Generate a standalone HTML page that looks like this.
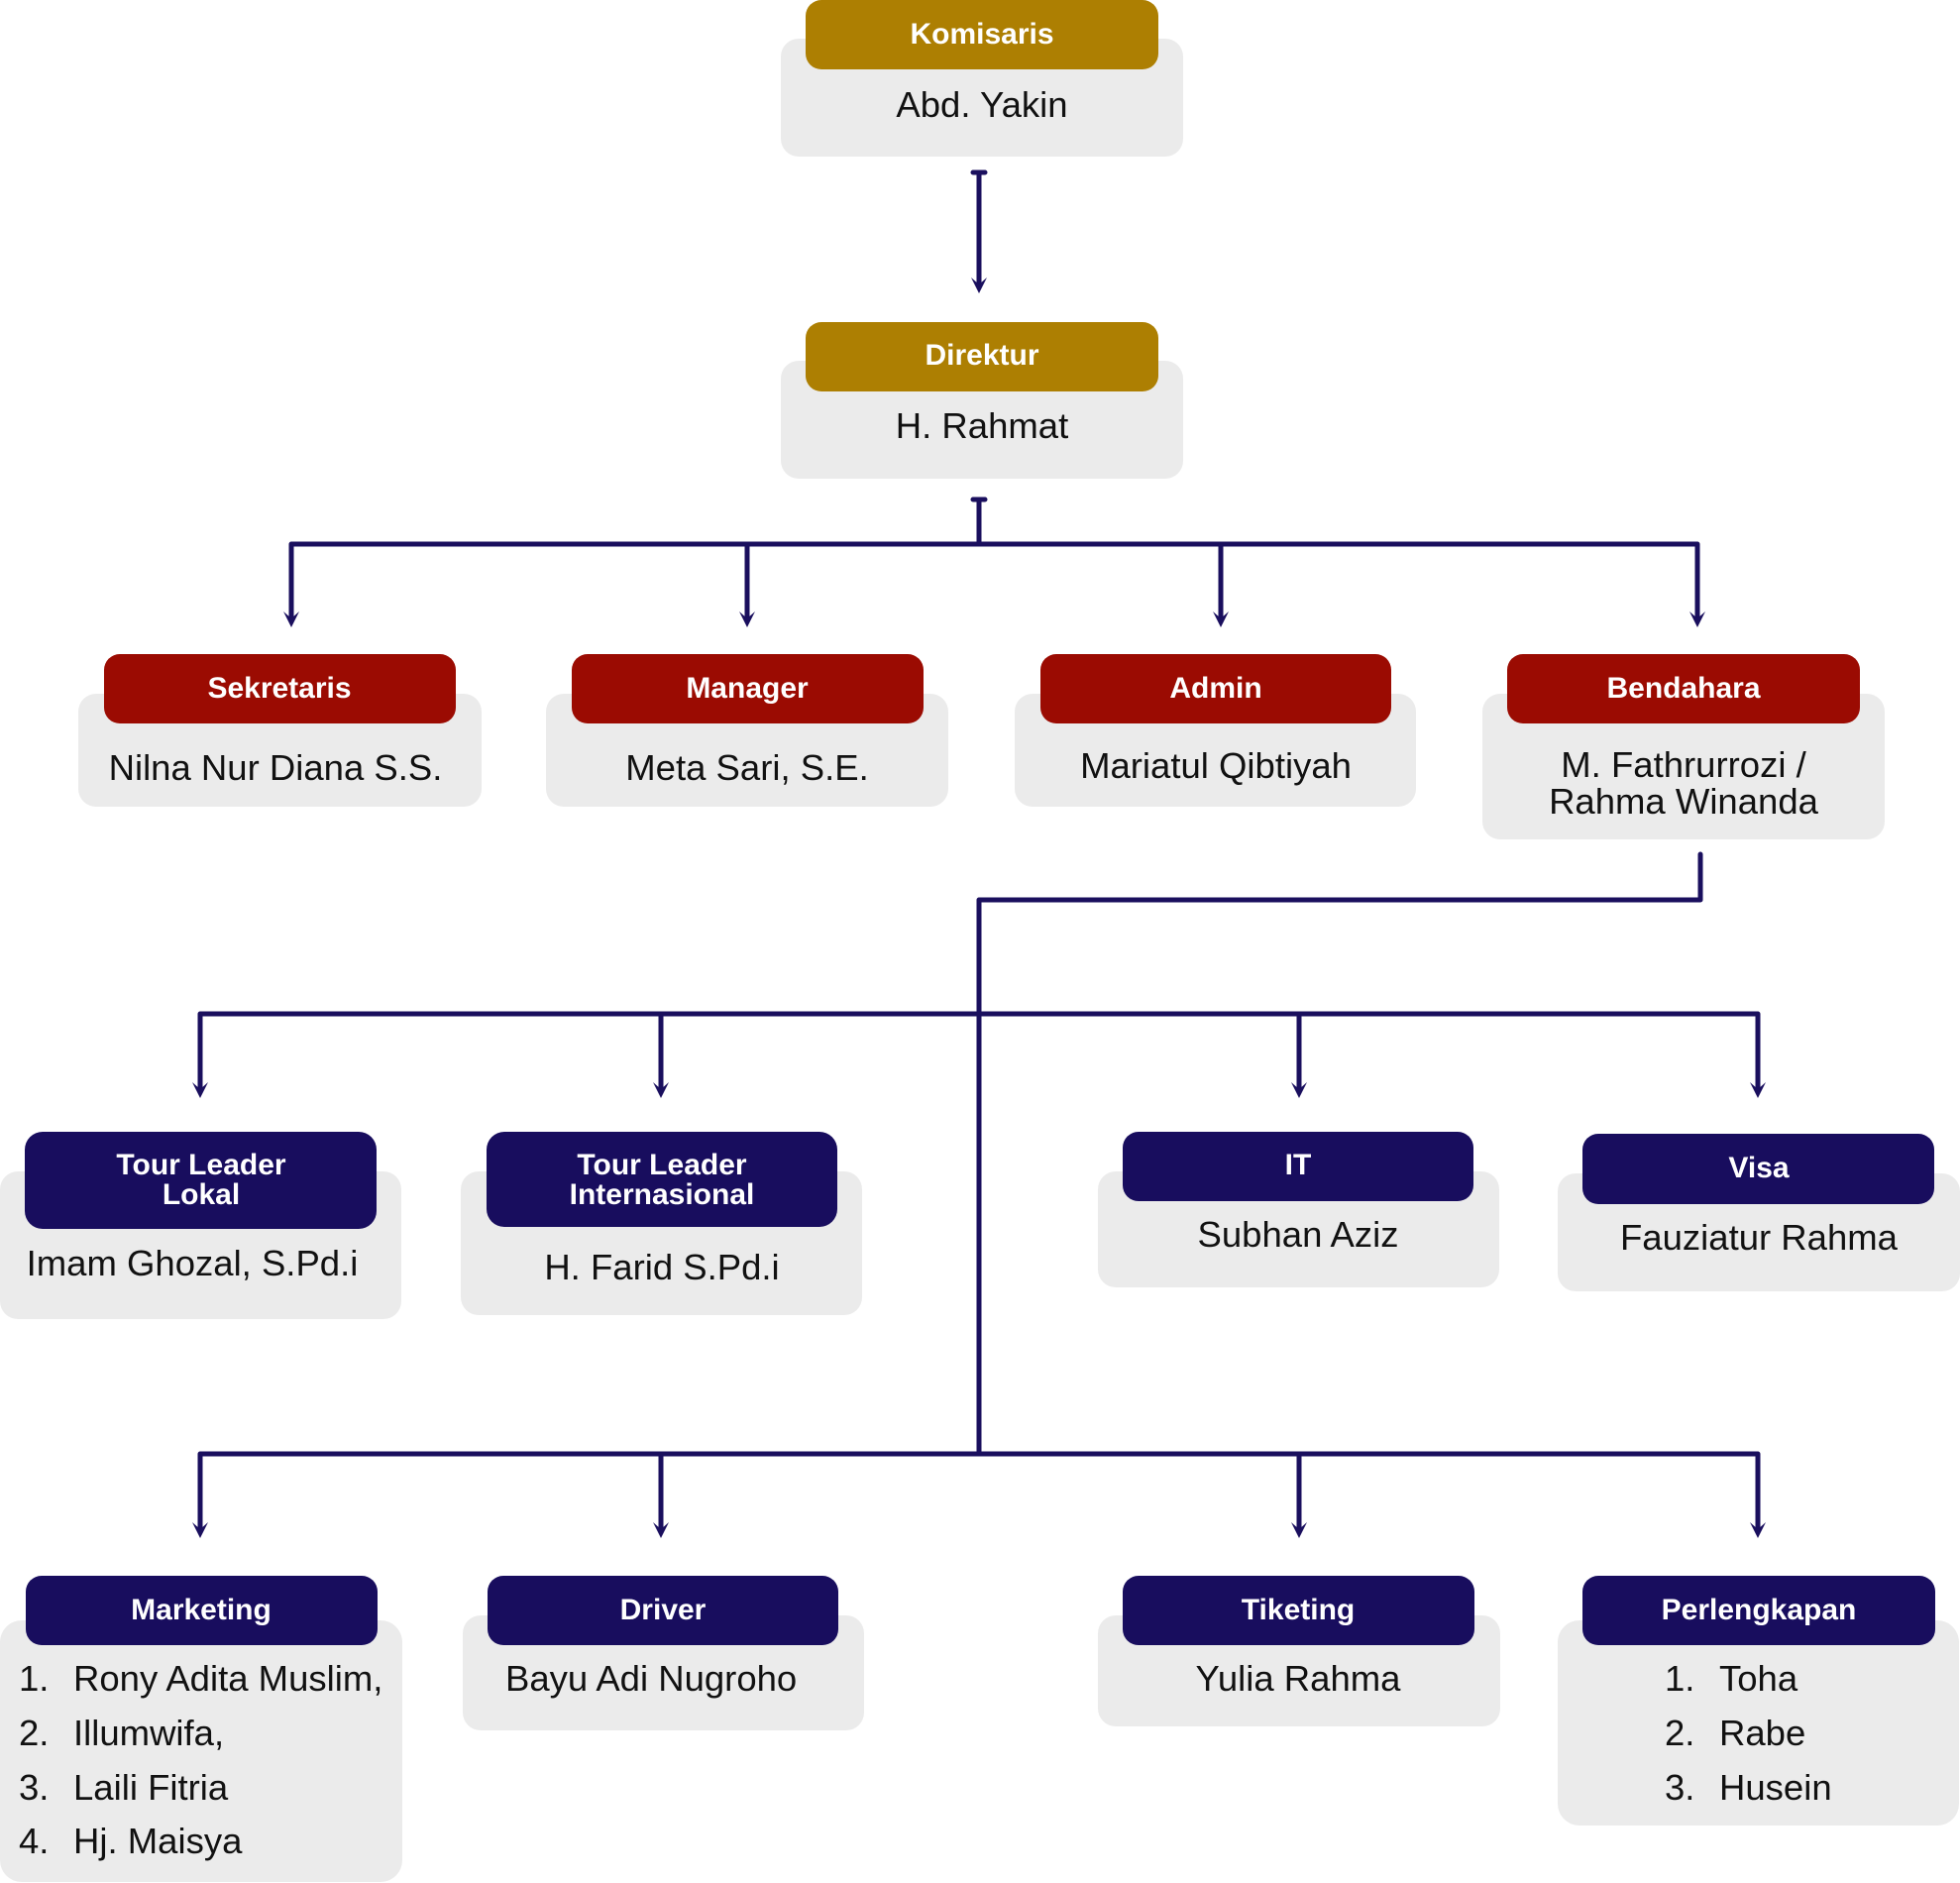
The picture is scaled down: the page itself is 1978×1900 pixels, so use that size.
<!DOCTYPE html>
<html><head><meta charset="utf-8"><style>
html,body{margin:0;padding:0;background:#fff;}
svg{display:block}
.h{font-family:"Liberation Sans",sans-serif;font-weight:bold;font-size:30px;fill:#fff;text-anchor:middle}
.n{font-family:"Liberation Sans",sans-serif;font-size:36.5px;fill:#111;text-anchor:middle}
.l{font-family:"Liberation Sans",sans-serif;font-size:36.5px;fill:#111}
.g{fill:#ebebeb}
.c{stroke:#1a0f5e;stroke-width:5;fill:none;stroke-linecap:round;stroke-linejoin:round}
</style></head><body>
<svg width="1978" height="1900" viewBox="0 0 1978 1900" xmlns="http://www.w3.org/2000/svg">
<g class="c">
<path d="M982 174H994M988 174V290"/>
<path d="M988 504V549M982 504H994"/>
<path d="M294 627V549H1713V627M754 549V627M1232 549V627"/>
<path d="M1716 862V908H988V1467"/>
<path d="M202 1102V1023H1774V1102M667 1023V1102M1311 1023V1102"/>
<path d="M202 1546V1467H1774V1546M667 1467V1546M1311 1467V1546"/>
</g>
<g fill="#1a0f5e">
<path d="M980 280L988 296L996 280L988 287Z"/>
<path d="M286 617L294 633L302 617L294 624Z"/>
<path d="M746 617L754 633L762 617L754 624Z"/>
<path d="M1224 617L1232 633L1240 617L1232 624Z"/>
<path d="M1705 617L1713 633L1721 617L1713 624Z"/>
<path d="M194 1092L202 1108L210 1092L202 1099Z"/>
<path d="M659 1092L667 1108L675 1092L667 1099Z"/>
<path d="M1303 1092L1311 1108L1319 1092L1311 1099Z"/>
<path d="M1766 1092L1774 1108L1782 1092L1774 1099Z"/>
<path d="M194 1536L202 1552L210 1536L202 1543Z"/>
<path d="M659 1536L667 1552L675 1536L667 1543Z"/>
<path d="M1303 1536L1311 1552L1319 1536L1311 1543Z"/>
<path d="M1766 1536L1774 1552L1782 1536L1774 1543Z"/>
</g>

<rect class="g" x="788" y="39" width="406" height="119" rx="18"/>
<rect fill="#ad7f02" x="813" y="0" width="356" height="70" rx="16"/>
<text class="h" x="991" y="44">Komisaris</text>
<text class="n" x="991" y="118">Abd. Yakin</text>

<rect class="g" x="788" y="364" width="406" height="119" rx="18"/>
<rect fill="#ad7f02" x="813" y="325" width="356" height="70" rx="16"/>
<text class="h" x="991" y="368">Direktur</text>
<text class="n" x="991" y="442">H. Rahmat</text>

<rect class="g" x="79" y="700" width="407" height="114" rx="18"/>
<rect fill="#9b0b02" x="105" y="660" width="355" height="70" rx="16"/>
<text class="h" x="282" y="704">Sekretaris</text>
<text class="n" x="278" y="787">Nilna Nur Diana S.S.</text>

<rect class="g" x="551" y="700" width="406" height="114" rx="18"/>
<rect fill="#9b0b02" x="577" y="660" width="355" height="70" rx="16"/>
<text class="h" x="754" y="704">Manager</text>
<text class="n" x="754" y="787">Meta Sari, S.E.</text>

<rect class="g" x="1024" y="700" width="405" height="114" rx="18"/>
<rect fill="#9b0b02" x="1050" y="660" width="354" height="70" rx="16"/>
<text class="h" x="1227" y="704">Admin</text>
<text class="n" x="1227" y="785">Mariatul Qibtiyah</text>

<rect class="g" x="1496" y="700" width="406" height="147" rx="18"/>
<rect fill="#9b0b02" x="1521" y="660" width="356" height="70" rx="16"/>
<text class="h" x="1699" y="704">Bendahara</text>
<text class="n" x="1699" y="784">M. Fathrurrozi /</text>
<text class="n" x="1699" y="821">Rahma Winanda</text>

<rect class="g" x="0" y="1182" width="405" height="149" rx="18"/>
<rect fill="#180d5e" x="25" y="1142" width="355" height="98" rx="18"/>
<text class="h" x="203" y="1185">Tour Leader</text>
<text class="h" x="203" y="1215">Lokal</text>
<text class="n" x="194" y="1287">Imam Ghozal, S.Pd.i</text>

<rect class="g" x="465" y="1182" width="405" height="145" rx="18"/>
<rect fill="#180d5e" x="491" y="1142" width="354" height="96" rx="18"/>
<text class="h" x="668" y="1185">Tour Leader</text>
<text class="h" x="668" y="1215">Internasional</text>
<text class="n" x="668" y="1291">H. Farid S.Pd.i</text>

<rect class="g" x="1108" y="1182" width="405" height="117" rx="18"/>
<rect fill="#180d5e" x="1133" y="1142" width="354" height="70" rx="16"/>
<text class="h" x="1310" y="1185">IT</text>
<text class="n" x="1310" y="1258">Subhan Aziz</text>

<rect class="g" x="1572" y="1184" width="406" height="119" rx="18"/>
<rect fill="#180d5e" x="1597" y="1144" width="355" height="71" rx="16"/>
<text class="h" x="1775" y="1188">Visa</text>
<text class="n" x="1775" y="1261">Fauziatur Rahma</text>

<rect class="g" x="0" y="1635" width="406" height="264" rx="22"/>
<rect fill="#180d5e" x="26" y="1590" width="355" height="70" rx="16"/>
<text class="h" x="203" y="1634">Marketing</text>
<text class="l" x="19" y="1706">1.</text><text class="l" x="74" y="1706">Rony Adita Muslim,</text>
<text class="l" x="19" y="1761">2.</text><text class="l" x="74" y="1761">Illumwifa,</text>
<text class="l" x="19" y="1816">3.</text><text class="l" x="74" y="1816">Laili Fitria</text>
<text class="l" x="19" y="1870">4.</text><text class="l" x="74" y="1870">Hj. Maisya</text>

<rect class="g" x="467" y="1630" width="405" height="116" rx="18"/>
<rect fill="#180d5e" x="492" y="1590" width="354" height="70" rx="16"/>
<text class="h" x="669" y="1634">Driver</text>
<text class="l" x="510" y="1706">Bayu Adi Nugroho</text>

<rect class="g" x="1108" y="1630" width="406" height="112" rx="18"/>
<rect fill="#180d5e" x="1133" y="1590" width="355" height="70" rx="16"/>
<text class="h" x="1310" y="1634">Tiketing</text>
<text class="n" x="1310" y="1706">Yulia Rahma</text>

<rect class="g" x="1572" y="1635" width="405" height="207" rx="22"/>
<rect fill="#180d5e" x="1597" y="1590" width="356" height="70" rx="16"/>
<text class="h" x="1775" y="1634">Perlengkapan</text>
<text class="l" x="1680" y="1706">1.</text><text class="l" x="1735" y="1706">Toha</text>
<text class="l" x="1680" y="1761">2.</text><text class="l" x="1735" y="1761">Rabe</text>
<text class="l" x="1680" y="1816">3.</text><text class="l" x="1735" y="1816">Husein</text>
</svg>
</body></html>
